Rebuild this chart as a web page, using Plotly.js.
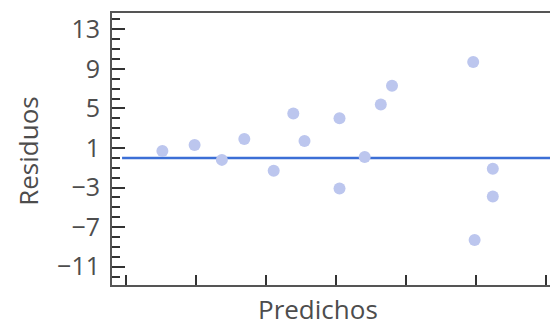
<!DOCTYPE html>
<html><head><meta charset="utf-8">
<script src="https://cdn.plot.ly/plotly-3.0.1.min.js"></script>
<style>html,body{margin:0;padding:0;background:#fff}#chart{width:550px;height:330px}</style>
</head><body><div id="chart"></div>
<script>
// Predicted values (x positions in tick units) and residuals
const predichos = [0.52, 0.98, 1.37, 1.69, 2.11, 2.39, 2.55, 3.05, 3.05, 3.41, 3.64, 3.80, 4.96, 4.98, 5.24, 5.24];
const residuos  = [0.7, 1.3, -0.2, 1.9, -1.3, 4.5, 1.7, 4.0, -3.1, 0.1, 5.4, 7.3, 9.7, -8.3, -1.1, -3.9];
const yTickVals = [13, 9, 5, 1, -3, -7, -11];
const yTickText = ['13', '9', '5', '1', '\u22123', '\u22127', '\u221211'];
const xTickVals = [0, 1, 2, 3, 4, 5, 6];
const xTitle = 'Predichos';
const yTitle = 'Residuos';

const textColor = '#4d4d4d';
const axisColor = '#555555';

const trace = {
  x: predichos, y: residuos, type: 'scatter', mode: 'markers',
  marker: {color: '#bcc6ee', size: 12}, hoverinfo: 'skip'
};

const layout = {
  width: 550, height: 330,
  margin: {l: 112, r: 0, t: 13, b: 45},
  paper_bgcolor: '#fff', plot_bgcolor: '#fff',
  showlegend: false,
  font: {family: 'Open Sans, sans-serif', color: textColor, size: 25},
  xaxis: {
    range: [-0.2, 6.057], showgrid: false, zeroline: false,
    showline: true, linecolor: axisColor, linewidth: 2, mirror: true,
    tickmode: 'array', tickvals: xTickVals, showticklabels: false,
    ticks: 'inside', ticklen: 10, tickwidth: 2, tickcolor: '#333'
  },
  yaxis: {
    range: [-12.85, 14.65], showgrid: false, zeroline: false,
    showline: true, linecolor: axisColor, linewidth: 2,
    tickmode: 'array', tickvals: yTickVals, ticktext: yTickText,
    ticks: 'inside', ticklen: 13, tickwidth: 2, tickcolor: '#333',
    ticklabelstandoff: 5,
    minor: {ticks: 'inside', ticklen: 8, tickwidth: 2, tickcolor: '#333', dtick: 1, tick0: 1, showgrid: false},
    tickfont: {size: 25, color: textColor}
  },
  annotations: [
    {text: xTitle, xref: 'paper', yref: 'paper', x: 0.47, y: -0.1636,
     xanchor: 'center', yanchor: 'bottom', showarrow: false,
     font: {size: 26, color: textColor}},
    {text: yTitle, xref: 'paper', yref: 'paper', x: -0.192, y: 0.493,
     xanchor: 'center', yanchor: 'middle', showarrow: false, textangle: -90,
     font: {size: 26, color: textColor}}
  ],
  shapes: [{
    type: 'line', xref: 'paper', yref: 'y', x0: 0.023, x1: 1, y0: 0, y1: 0,
    line: {color: '#3c6fd6', width: 2.5}, layer: 'below'
  }]
};

Plotly.newPlot('chart', [trace], layout, {displayModeBar: false, staticPlot: true});
</script></body></html>
